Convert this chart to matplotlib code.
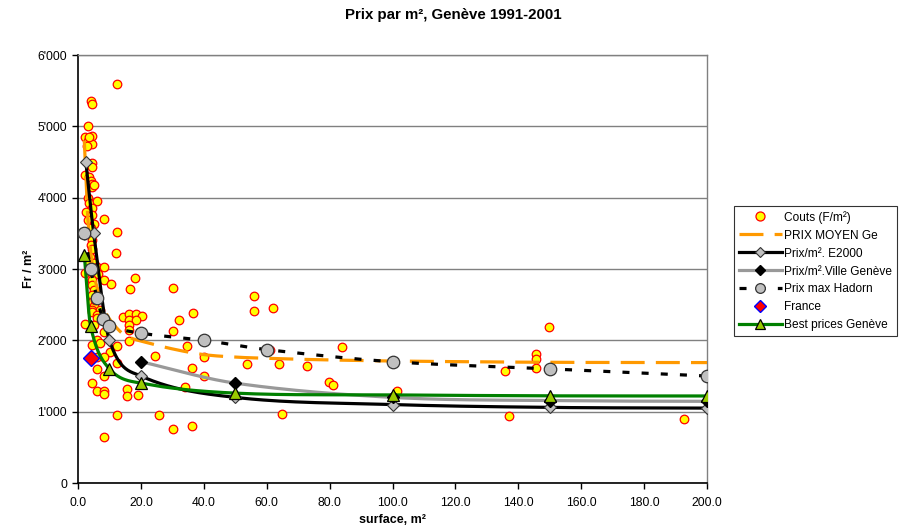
import numpy as np
import matplotlib
matplotlib.use("Agg")
import matplotlib.pyplot as plt
from matplotlib.ticker import FuncFormatter
from matplotlib.lines import Line2D

plt.rcParams['font.family'] = ['Liberation Sans', 'DejaVu Sans']

# Couts (F/m2) - individual observations
couts_x = [12.3, 4.1, 4.3, 3.3, 2.2, 4.3, 3.1, 4.3, 3.6, 2.9,
           4.3, 4.3, 2.2, 3.6, 4.1, 4.6, 4.3, 5.0,
           3.1, 3.6, 6.2, 4.6, 2.5, 4.6, 8.3, 3.1, 5.2, 4.1, 12.4, 4.3,
           4.1, 4.6, 12.0, 3.9, 3.6, 5.0, 6.2, 8.3, 2.2, 4.3,
           6.4, 18.1, 4.6, 8.3, 10.5, 16.6, 4.3, 5.2, 4.6, 4.3,
           5.2, 4.3, 7.1, 4.6, 5.5, 6.0, 6.2, 14.2, 16.3, 18.4,
           20.5, 16.3, 18.4, 2.2, 5.2, 16.3, 8.3, 16.3, 6.2, 16.3,
           7.1, 4.3, 12.4, 10.2, 6.2, 8.3, 24.5, 12.4, 6.2, 8.3,
           4.3, 6.2, 8.3, 8.3, 15.7, 15.7, 19.1, 12.4, 25.8, 8.3,
           30.2, 32.1, 36.5, 30.1, 34.5, 40.2, 36.1, 40.2, 34.1, 30.2,
           36.1, 56.1, 56.1, 62.0, 84.1, 53.6, 64.0, 72.8, 61.2, 79.9,
           81.0, 101.3, 64.9, 149.7, 145.7, 145.7, 145.7, 135.8, 137.0, 192.7]
couts_y = [5600, 5360, 5310, 5000, 4850, 4860, 4800, 4750, 4850, 4720,
           4490, 4430, 4320, 4290, 4240, 4190, 4150, 4180,
           3990, 3920, 3960, 3850, 3800, 3760, 3700, 3690, 3630, 3570, 3520, 3410,
           3340, 3280, 3230, 3170, 3100, 3080, 3030, 3030, 2950, 2930,
           2930, 2880, 2850, 2850, 2790, 2720, 2770, 2710, 2640, 2540,
           2480, 2430, 2430, 2400, 2560, 2350, 2310, 2330, 2370, 2370,
           2340, 2290, 2290, 2230, 2220, 2215, 2120, 2140, 2005, 1995,
           1960, 1935, 1920, 1840, 1770, 1770, 1780, 1680, 1600, 1500,
           1400, 1290, 1290, 1250, 1313, 1220, 1234, 953, 953, 640,
           2730, 2285, 2390, 2125, 1915, 1765, 1608, 1500, 1350, 753,
           799, 2615, 2405, 2450, 1905, 1665, 1665, 1645, 1865, 1420,
           1378, 1290, 972, 2192, 1804, 1738, 1608, 1575, 944, 902]

moyen_x = [2, 3, 4, 5, 6, 8, 10, 14, 17, 20, 30, 40, 50, 60, 70, 80, 100, 150, 200]
moyen_y = [4800, 3800, 3250, 2950, 2750, 2470, 2300, 2100, 2030, 1990, 1880,
           1800, 1765, 1748, 1735, 1725, 1710, 1692, 1688]

e2000_x = [2.5, 5, 10, 20, 50, 100, 150, 200]
e2000_y = [4500, 3500, 2000, 1500, 1200, 1100, 1060, 1050]

ville_x = [20, 50, 100, 150, 200]
ville_y = [1700, 1400, 1200, 1155, 1145]

hadorn_x = [2, 4, 6, 8, 10, 20, 40, 60, 100, 150, 200]
hadorn_y = [3500, 3000, 2600, 2300, 2200, 2100, 2000, 1870, 1700, 1600, 1500]

france_x = [4]
france_y = [1750]

best_x = [2, 4, 10, 20, 50, 100, 150, 200]
best_y = [3200, 2200, 1600, 1400, 1260, 1235, 1222, 1220]


def smooth(xs, ys, n=40):
    # cubic hermite through the points, like Excel's smoothed lines
    xs = np.asarray(xs, float)
    ys = np.asarray(ys, float)
    m = np.empty_like(ys)
    m[1:-1] = (ys[2:] - ys[:-2]) / (xs[2:] - xs[:-2])
    m[0] = (ys[1] - ys[0]) / (xs[1] - xs[0])
    m[-1] = (ys[-1] - ys[-2]) / (xs[-1] - xs[-2])
    out_x, out_y = [xs[0]], [ys[0]]
    for i in range(len(xs) - 1):
        h = xs[i + 1] - xs[i]
        t = np.linspace(0, 1, n)[1:]
        h00 = 2 * t**3 - 3 * t**2 + 1
        h10 = t**3 - 2 * t**2 + t
        h01 = -2 * t**3 + 3 * t**2
        h11 = t**3 - t**2
        out_x.extend(xs[i] + t * h)
        out_y.extend(h00 * ys[i] + h10 * h * m[i] + h01 * ys[i + 1] + h11 * h * m[i + 1])
    return np.array(out_x), np.array(out_y)


fig = plt.figure(figsize=(9.06, 5.31), dpi=100)
ax = fig.add_axes([78 / 906, 1 - 483 / 531, 629 / 906, 428 / 531])

lw = 2.3

ax.scatter(couts_x, couts_y, s=38, facecolor='#FFFF00', edgecolor='#FF0000',
           linewidth=0.9, zorder=3, label='Couts (F/m²)')

sx, sy = smooth(moyen_x, moyen_y)
ax.plot(sx, sy, color='#FF9900', lw=lw, linestyle=(0, (7.5, 3.5)), zorder=4,
        label='PRIX MOYEN Ge')

sx, sy = smooth(e2000_x, e2000_y)
ax.plot(sx, sy, color='black', lw=lw, zorder=4)
ax.plot(e2000_x, e2000_y, linestyle='none', marker='D', ms=6, mfc='#C0C0C0',
        mec='#333333', mew=0.8, zorder=5)

sx, sy = smooth(ville_x, ville_y)
ax.plot(sx, sy, color='#999999', lw=lw, zorder=4)
ax.plot(ville_x, ville_y, linestyle='none', marker='D', ms=6, mfc='black',
        mec='black', zorder=5)

sx, sy = smooth(hadorn_x, hadorn_y)
ax.plot(sx, sy, color='black', lw=lw, linestyle=(0, (2.2, 3.8)), zorder=4)
ax.plot(hadorn_x, hadorn_y, linestyle='none', marker='o', ms=9, mfc='#C0C0C0',
        mec='#333333', mew=0.9, zorder=5)

ax.plot(france_x, france_y, linestyle='none', marker='D', ms=8, mfc='#FF0000',
        mec='#0000FF', mew=1.0, zorder=6)

sx, sy = smooth(best_x, best_y)
ax.plot(sx, sy, color='#008000', lw=lw, zorder=4)
ax.plot(best_x, best_y, linestyle='none', marker='^', ms=8, mfc='#99CC00',
        mec='black', mew=0.9, zorder=6)

ax.set_xlim(0, 200)
ax.set_ylim(0, 6000)
ax.set_xticks(np.arange(0, 201, 20))
ax.set_yticks(np.arange(0, 6001, 1000))
ax.xaxis.set_major_formatter(FuncFormatter(lambda v, p: f"{v:.1f}"))
ax.yaxis.set_major_formatter(FuncFormatter(lambda v, p: f"{int(v):,}".replace(',', "'")))
ax.tick_params(labelsize=8.7, length=4, width=1, direction='out')
ax.tick_params(axis='x', pad=6)
ax.tick_params(axis='y', pad=4)
ax.grid(axis='y', color='#808080', lw=1)
ax.set_axisbelow(True)
for s in ['top', 'right']:
    ax.spines[s].set_color('#808080')
    ax.spines[s].set_linewidth(1)
for s in ['left', 'bottom']:
    ax.spines[s].set_color('black')
    ax.spines[s].set_linewidth(1.2)

ax.set_xlabel('surface, m²', fontsize=9, fontweight='bold')
ax.xaxis.set_label_coords(0.5, -0.072)
ax.set_ylabel('Fr / m²', fontsize=9, fontweight='bold')
ax.yaxis.set_label_coords(-0.068, 0.5)

fig.text(0.5, 1 - 15 / 531, 'Prix par m², Genève 1991-2001', ha='center', va='center',
         fontsize=10.8, fontweight='bold')

# legend handles built to look like Excel's entries
handles = [
    Line2D([], [], linestyle='none', marker='o', ms=6.5, mfc='#FFFF00', mec='#FF0000', mew=0.9),
    Line2D([], [], color='#FF9900', lw=lw, linestyle=(0, (7.5, 3.5))),
    Line2D([], [], color='black', lw=lw, marker='D', ms=5, mfc='#C0C0C0', mec='#333333', mew=0.8),
    Line2D([], [], color='#999999', lw=lw, marker='D', ms=5, mfc='black', mec='black'),
    Line2D([], [], color='black', lw=lw, linestyle=(0, (2.2, 3.8)), marker='o', ms=7,
           mfc='#C0C0C0', mec='#333333', mew=0.9),
    Line2D([], [], linestyle='none', marker='D', ms=6, mfc='#FF0000', mec='#0000FF', mew=1.0),
    Line2D([], [], color='#008000', lw=lw, marker='^', ms=7, mfc='#99CC00', mec='black', mew=0.9),
]
labels = ['Couts (F/m²)', 'PRIX MOYEN Ge', 'Prix/m². E2000', 'Prix/m².Ville Genève',
          'Prix max Hadorn', 'France', 'Best prices Genève']
leg = fig.legend(handles, labels, loc='upper left', bbox_to_anchor=(734 / 906, 1 - 206 / 531),
                 bbox_transform=fig.transFigure, fontsize=8.6, frameon=True, fancybox=False,
                 edgecolor='black', borderpad=0.4, labelspacing=0.5, handlelength=3.6,
                 handletextpad=0.2, borderaxespad=0)
leg.get_frame().set_linewidth(0.8)

fig.savefig('out.png', dpi=100)
